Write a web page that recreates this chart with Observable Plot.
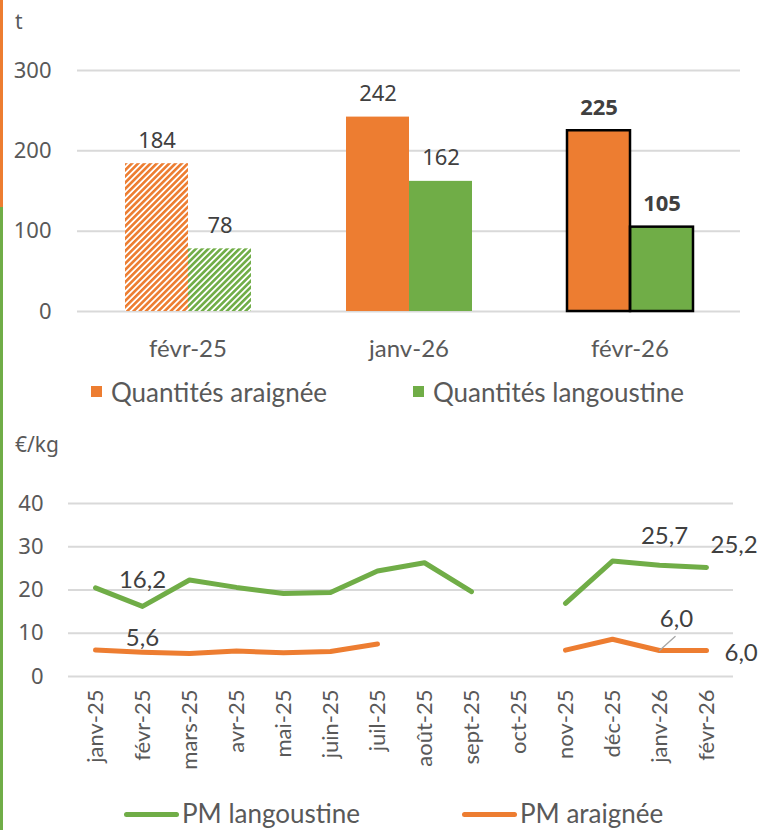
<!DOCTYPE html>
<html>
<head>
<meta charset="utf-8">
<script src="https://cdn.jsdelivr.net/npm/d3@7"></script>
<script src="https://cdn.jsdelivr.net/npm/@observablehq/plot@0.6"></script>
<style>
  body { margin: 0; background: #fff; }
  #root { position: relative; width: 765px; height: 830px; overflow: hidden; font-family: Lato, sans-serif; }
  .abs { position: absolute; }
  .unit { font-family: "Noto Sans", sans-serif; font-size: 21px; color: #595959; }
  .leg { font-family: Lato, sans-serif; font-size: 26px; color: #595959; white-space: nowrap; line-height: 1; }
</style>
</head>
<body>
<div id="root">
  <div class="abs" style="left:0;top:0;width:3px;height:207px;background:#ED7D31"></div>
  <div class="abs" style="left:0;top:207px;width:3px;height:623px;background:#70AD47"></div>
  <div class="abs unit" style="left:15px;top:7px">t</div>
  <div class="abs unit" style="left:15px;top:430px">€/kg</div>
  <div id="chart1" class="abs" style="left:0;top:0"></div>
  <div id="legend1" class="abs" style="left:0;top:379px;width:765px"></div>
  <div id="chart2" class="abs" style="left:0;top:420px"></div>
  <div id="legend2" class="abs" style="left:0;top:800px;width:765px"></div>
</div>
<script>
// ---- Data ----
const months = ["févr-25", "janv-26", "févr-26"];
const qtyAraignee = [184, 242, 225];
const qtyLangoustine = [78, 162, 105];
const seriesQty = ["Quantités araignée", "Quantités langoustine"];

const priceMonths = ["janv-25", "févr-25", "mars-25", "avr-25", "mai-25", "juin-25", "juil-25",
  "août-25", "sept-25", "oct-25", "nov-25", "déc-25", "janv-26", "févr-26"];
const pmLangoustine = [20.5, 16.2, 22.3, 20.6, 19.2, 19.4, 24.4, 26.3, 19.6, null, 16.9, 26.7, 25.7, 25.2];
const pmAraignee = [6.1, 5.6, 5.3, 5.9, 5.5, 5.8, 7.5, null, null, null, 6.1, 8.6, 6.0, 6.0];
const seriesPM = ["PM langoustine", "PM araignée"];

const ORANGE = "#ED7D31", GREEN = "#70AD47";
const comparisonMonth = months[0];
const currentMonth = months[months.length - 1];

// ---- Chart 1: quantities ----
const qtyData = months.flatMap((m, i) => [
  {month: m, series: "araignée", value: qtyAraignee[i]},
  {month: m, series: "langoustine", value: qtyLangoustine[i]}
]);
const fillKey = d => (d.month === comparisonMonth ? "h-" : "") + d.series;

const chart1 = Plot.plot({
  width: 765, height: 375,
  marginTop: 70, marginBottom: 64, marginLeft: 76, marginRight: 24,
  style: {fontFamily: "'Noto Sans', sans-serif", fontSize: "22px", background: "transparent", overflow: "visible"},
  fx: {domain: months, padding: 0, label: null, axis: null},
  x: {domain: ["araignée", "langoustine"], paddingInner: 0, paddingOuter: 0.732, axis: null},
  y: {domain: [0, 300], axis: null},
  color: {type: "ordinal", domain: ["araignée", "langoustine", "h-araignée", "h-langoustine"],
          range: [ORANGE, GREEN, "url(#hatchO)", "url(#hatchG)"]},
  marks: [
    Plot.ruleY([0, 100, 200, 300], {stroke: "#d9d9d9", strokeWidth: 2}),
    Plot.axisY({ticks: [0, 100, 200, 300], tickSize: 0, tickPadding: 26, color: "#595959", fontSize: 22, label: null}),
    Plot.barY(qtyData, {fx: "month", x: "series", y: "value", fill: fillKey}),
    Plot.barY(qtyData.filter(d => d.month === currentMonth),
      {fx: "month", x: "series", y: "value", fill: "none", stroke: "#000", strokeWidth: 2.5}),
    Plot.text(qtyData.filter(d => d.month !== currentMonth),
      {fx: "month", x: "series", y: "value", text: d => String(d.value), dy: -16, lineAnchor: "bottom", fill: "#404040", fontSize: 22}),
    Plot.text(qtyData.filter(d => d.month === currentMonth),
      {fx: "month", x: "series", y: "value", text: d => String(d.value), dy: -16, lineAnchor: "bottom", fill: "#404040", fontSize: 22, fontWeight: "bold"}),
    Plot.axisFx({anchor: "bottom", tickSize: 0, tickPadding: 28, fontFamily: "Lato, sans-serif", fontSize: 24, color: "#595959", label: null})
  ]
});

// hatch patterns
const ns = "http://www.w3.org/2000/svg";
const defs = document.createElementNS(ns, "defs");
[["hatchO", ORANGE], ["hatchG", GREEN]].forEach(([id, col]) => {
  const p = document.createElementNS(ns, "pattern");
  p.setAttribute("id", id);
  p.setAttribute("patternUnits", "userSpaceOnUse");
  p.setAttribute("width", "4.4");
  p.setAttribute("height", "10");
  p.setAttribute("patternTransform", "rotate(45)");
  const bg = document.createElementNS(ns, "rect");
  bg.setAttribute("width", "4.4"); bg.setAttribute("height", "10"); bg.setAttribute("fill", "#fff");
  const st = document.createElementNS(ns, "rect");
  st.setAttribute("width", "2.6"); st.setAttribute("height", "10"); st.setAttribute("fill", col);
  p.appendChild(bg); p.appendChild(st);
  defs.appendChild(p);
});
chart1.insertBefore(defs, chart1.firstChild);
document.getElementById("chart1").appendChild(chart1);

// legend 1
document.getElementById("legend1").innerHTML = `
  <div class="abs" style="left:91px;top:7px;width:11px;height:11px;background:${ORANGE}"></div>
  <div class="abs leg" style="left:111px;top:0">${seriesQty[0]}</div>
  <div class="abs" style="left:413px;top:7px;width:11px;height:11px;background:${GREEN}"></div>
  <div class="abs leg" style="left:433px;top:0">${seriesQty[1]}</div>`;

// ---- Chart 2: prices ----
const fmt = v => d3.format(".1f")(v).replace(".", ",");
const lang = priceMonths.map((m, i) => ({month: m, value: pmLangoustine[i]}));
const arai = priceMonths.map((m, i) => ({month: m, value: pmAraignee[i]}));
const pick = (arr, m) => arr.filter(d => d.month === m);
const lblStyle = {x: "month", y: "value", text: d => fmt(d.value), fill: "#404040", fontSize: 24, fontFamily: "Lato, sans-serif"};

const chart2 = Plot.plot({
  width: 765, height: 375,
  marginTop: 83, marginBottom: 119, marginLeft: 68, marginRight: 32,
  style: {fontFamily: "'Noto Sans', sans-serif", fontSize: "22px", background: "transparent", overflow: "visible"},
  x: {type: "point", domain: priceMonths, padding: 0.5, axis: null},
  y: {domain: [0, 40], axis: null},
  marks: [
    Plot.ruleY([0, 10, 20, 30, 40], {stroke: "#d9d9d9", strokeWidth: 2}),
    Plot.axisY({ticks: [0, 10, 20, 30, 40], tickSize: 0, tickPadding: 25, color: "#595959", fontSize: 22, label: null}),
    Plot.axisX({tickRotate: -90, tickSize: 0, tickPadding: 13, fontFamily: "Lato, sans-serif", fontSize: 22, color: "#595959", label: null}),
    Plot.lineY(lang, {x: "month", y: "value", stroke: GREEN, strokeWidth: 5, strokeLinecap: "round", strokeLinejoin: "round"}),
    Plot.lineY(arai, {x: "month", y: "value", stroke: ORANGE, strokeWidth: 5, strokeLinecap: "round", strokeLinejoin: "round"}),
    Plot.vector(pick(arai, "janv-26"), {x: "month", y: "value", length: 21, rotate: 48, anchor: "start",
      stroke: "#a6a6a6", strokeWidth: 1.3,
      shape: {draw(ctx, l) { ctx.moveTo(0, 0); ctx.lineTo(0, -l); }}}),
    Plot.text(pick(lang, "févr-25"), {...lblStyle, dy: -26}),
    Plot.text(pick(arai, "févr-25"), {...lblStyle, dy: -14}),
    Plot.text(pick(lang, "janv-26"), {...lblStyle, dx: 5, dy: -29}),
    Plot.text(pick(lang, "févr-26"), {...lblStyle, textAnchor: "start", dx: 4, dy: -22}),
    Plot.text(pick(arai, "janv-26"), {...lblStyle, dx: 17, dy: -31}),
    Plot.text(pick(arai, "févr-26"), {...lblStyle, textAnchor: "start", dx: 18, dy: 3})
  ]
});
document.getElementById("chart2").appendChild(chart2);

// legend 2
document.getElementById("legend2").innerHTML = `
  <div class="abs" style="left:124px;top:12px;width:55px;height:5px;border-radius:3px;background:${GREEN}"></div>
  <div class="abs leg" style="left:182px;top:0">${seriesPM[0]}</div>
  <div class="abs" style="left:462px;top:12px;width:55px;height:5px;border-radius:3px;background:${ORANGE}"></div>
  <div class="abs leg" style="left:520px;top:0">${seriesPM[1]}</div>`;
</script>
</body>
</html>
